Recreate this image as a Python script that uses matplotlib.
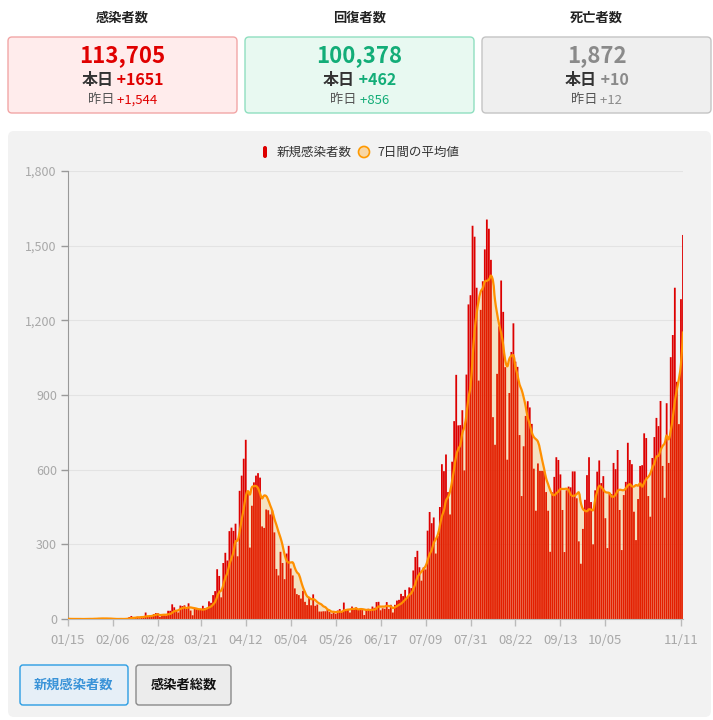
import numpy as np
import pandas as pd
import matplotlib
matplotlib.use('Agg')
import matplotlib.pyplot as plt
from matplotlib.patches import FancyBboxPatch, Circle, PathPatch
from matplotlib.path import Path

plt.rcParams['font.family'] = ['Noto Sans CJK JP', 'DejaVu Sans']

# daily new cases, 01/15 .. 11/11
jan = [1, 0, 0, 0, 0, 0, 0, 0, 0, 1, 1, 1, 0, 3, 1, 4, 3]
feb = [3, 0, 0, 1, 0, 0, 0, 0, 0, 1, 0, 1, 4, 8, 12, 6, 6, 9, 3, 10, 11, 26,
       12, 10, 14, 20, 24, 23, 9]
mar = [15, 15, 14, 33, 33, 59, 47, 33, 26, 54, 52, 55, 41, 63, 34, 15, 44, 39,
       39, 40, 53, 44, 40, 71, 65, 96, 112, 200, 173, 87, 225]
apr = [266, 235, 353, 367, 354, 383, 252, 515, 576, 644, 720, 507, 287, 455,
       549, 576, 586, 568, 372, 366, 440, 437, 420, 436, 348, 201, 175, 270,
       225, 160]
may = [263, 294, 203, 175, 123, 100, 96, 82, 113, 69, 56, 87, 55, 99, 53, 58,
       30, 30, 31, 31, 37, 28, 21, 26, 21, 34, 40, 32, 66, 33, 38]
jun = [26, 50, 38, 47, 39, 41, 36, 16, 39, 41, 40, 50, 45, 68, 69, 35, 43, 41,
       68, 40, 57, 26, 57, 74, 77, 101, 92, 117, 86, 127]
jul = [124, 195, 249, 274, 208, 154, 207, 199, 355, 430, 385, 408, 263, 333,
       450, 622, 594, 661, 510, 420, 632, 795, 981, 778, 779, 839, 597, 982,
       1264, 1301, 1580]
aug = [1536, 1331, 958, 1242, 1357, 1485, 1605, 1568, 1443, 811, 700, 985,
       1176, 1360, 1234, 1012, 640, 908, 1073, 1188, 1034, 1013, 739, 494, 694,
       816, 875, 850, 784, 604, 435]
sep = [625, 595, 595, 594, 510, 435, 270, 509, 571, 650, 639, 581, 438, 269,
       517, 532, 529, 593, 593, 485, 312, 222, 362, 479, 578, 650, 470, 300,
       517, 592]
oct_ = [637, 546, 574, 405, 285, 502, 502, 627, 602, 679, 438, 277, 498, 551,
        708, 639, 622, 431, 317, 482, 615, 618, 746, 727, 494, 411, 647, 731,
        808, 775, 876]
nov = [615, 487, 867, 627, 1052, 1141, 1331, 953, 783, 1285, 1543]

daily = np.array(jan + feb + mar + apr + may + jun + jul + aug + sep + oct_ + nov)
avg7 = pd.Series(daily).rolling(7, min_periods=1).mean().values

tick_pos = [0, 22, 44, 65, 87, 109, 131, 153, 175, 197, 219, 241, 263, 300]
tick_labels = ['01/15', '02/06', '02/28', '03/21', '04/12', '05/04', '05/26',
               '06/17', '07/09', '07/31', '08/22', '09/13', '10/05', '11/11']

W, H = 713, 720
fig = plt.figure(figsize=(W / 100, H / 100), dpi=100)
fig.patch.set_facecolor('white')


def fx(x):
    return x / W


def fy(y):
    return 1 - y / H


def rbox(x0, y0, x1, y1, fc, ec, r=4, lw=1.0):
    p = FancyBboxPatch((fx(x0), fy(y1)), fx(x1 - x0), (y1 - y0) / H,
                       boxstyle=f"round,pad=0,rounding_size={r / W}",
                       transform=fig.transFigure, fc=fc, ec=ec, lw=lw, zorder=-5)
    fig.patches.append(p)


renderer = fig.canvas.get_renderer()


def multi(xc, y, parts, size, weight='normal'):
    # draw coloured pieces of one line, centred on xc (pixels)
    items = []
    for s, c in parts:
        t = fig.text(0, fy(y), s, fontsize=size, color=c, weight=weight,
                     ha='left', va='center')
        items.append((t, t.get_window_extent(renderer).width))
    total = sum(w for _, w in items)
    x = xc - total / 2
    for t, w in items:
        t.set_x(fx(x))
        x += w


def spline_path(xs, ys, sx, sy, tension=0.4, close_to=None):
    # bezier curve through the points, like a chart.js line with tension
    px, py = xs * sx, ys * sy
    n = len(xs)
    verts = [(xs[0], ys[0])]
    codes = [Path.MOVETO]
    cin, cout = [], []
    for i in range(n):
        p0 = max(i - 1, 0)
        p2 = min(i + 1, n - 1)
        d01 = np.hypot(px[i] - px[p0], py[i] - py[p0])
        d12 = np.hypot(px[p2] - px[i], py[p2] - py[i])
        tot = d01 + d12 if d01 + d12 > 0 else 1
        fa, fb = tension * d01 / tot, tension * d12 / tot
        dx, dy = xs[p2] - xs[p0], ys[p2] - ys[p0]
        cin.append((xs[i] - fa * dx, max(ys[i] - fa * dy, 0)))
        cout.append((xs[i] + fb * dx, max(ys[i] + fb * dy, 0)))
    for i in range(1, n):
        verts += [cout[i - 1], cin[i], (xs[i], ys[i])]
        codes += [Path.CURVE4] * 3
    if close_to is not None:
        verts += [(xs[-1], close_to), (xs[0], close_to), (xs[0], ys[0])]
        codes += [Path.LINETO, Path.LINETO, Path.CLOSEPOLY]
    return Path(verts, codes)


# summary cards
cards = [
    (8, 237, '感染者数', '113,705', '+1651', '+1,544', '#e00000', '#ffecec', '#f2a6a6'),
    (245, 474, '回復者数', '100,378', '+462', '+856', '#13ad78', '#e8f9f1', '#8fdfc0'),
    (482, 711, '死亡者数', '1,872', '+10', '+12', '#8a8a8a', '#efefef', '#c4c4c4'),
]
for x0, x1, title, total, today, yday, col, fc, ec in cards:
    xc = (x0 + x1) / 2
    fig.text(fx(xc), fy(18), title, fontsize=9.5, weight='bold', color='#222',
             ha='center', va='center')
    rbox(x0, 37, x1, 113, fc, ec)
    fig.text(fx(xc), fy(56), total, fontsize=16, weight='bold', color=col,
             ha='center', va='center')
    multi(xc, 80, [('本日', '#333'), (' ' + today, col)], 11.5, 'bold')
    multi(xc, 100, [('昨日', '#555'), (' ' + yday, col)], 9.5)

# chart panel
rbox(8, 131, 711, 717, '#f2f2f2', 'none', r=6, lw=0)

ax = fig.add_axes([fx(68), fy(619), fx(683 - 68), (619 - 171) / H])
ax.set_facecolor('none')
x = np.arange(len(daily), dtype=float)
ax.bar(x, daily, width=0.88, color='#dd0000', lw=0, zorder=2, snap=False)

sx = 615 / (len(daily) - 1)
sy = 448 / 1800
ax.add_patch(PathPatch(spline_path(x, avg7, sx, sy, close_to=0),
                       fc='#ff9900', alpha=0.2, lw=0, zorder=3))
ax.add_patch(PathPatch(spline_path(x, avg7, sx, sy), fc='none', ec='#ff9000',
                       lw=1.6, zorder=4, joinstyle='round'))

ax.set_xlim(0, len(daily) - 1)
ax.set_ylim(0, 1800)
ax.set_yticks(range(0, 1801, 300))
ax.set_yticklabels([f'{v:,}' for v in range(0, 1801, 300)])
ax.set_xticks(tick_pos)
ax.set_xticklabels(tick_labels)
ax.tick_params(axis='y', colors='#999', labelcolor='#a8a8a8', labelsize=9,
               length=5, width=1, pad=3)
ax.tick_params(axis='x', colors='#bbb', labelcolor='#a8a8a8', labelsize=9.5,
               length=5, width=1, pad=6)
ax.grid(axis='y', color='#e3e3e3', lw=0.8, zorder=0)
ax.set_axisbelow(True)
for s in ['top', 'right']:
    ax.spines[s].set_visible(False)
ax.spines['left'].set_color('#999')
ax.spines['bottom'].set_color('#bbb')

# legend
rbox(263, 146, 267, 158, '#dd0000', 'none', r=2, lw=0)
fig.text(fx(277), fy(152), '新規感染者数', fontsize=9, color='#333',
         ha='left', va='center')
fig.patches.append(Circle((fx(364), fy(152)), 5.5 / W, transform=fig.transFigure,
                          fc='#f8d6a4', ec='#ff9900', lw=1.2, zorder=-4))
fig.text(fx(377), fy(152), '7日間の平均値', fontsize=9, color='#333',
         ha='left', va='center')

# buttons
rbox(20, 665, 128, 705, '#e6eff7', '#2b9de3', r=3)
fig.text(fx(74), fy(685), '新規感染者数', fontsize=9.5, color='#3a93d8',
         weight='bold', ha='center', va='center')
rbox(136, 665, 231, 705, '#ececec', '#8a8a8a', r=3)
fig.text(fx(183.5), fy(685), '感染者総数', fontsize=9.5, color='#111',
         weight='bold', ha='center', va='center')

fig.savefig('out.png', dpi=100)
